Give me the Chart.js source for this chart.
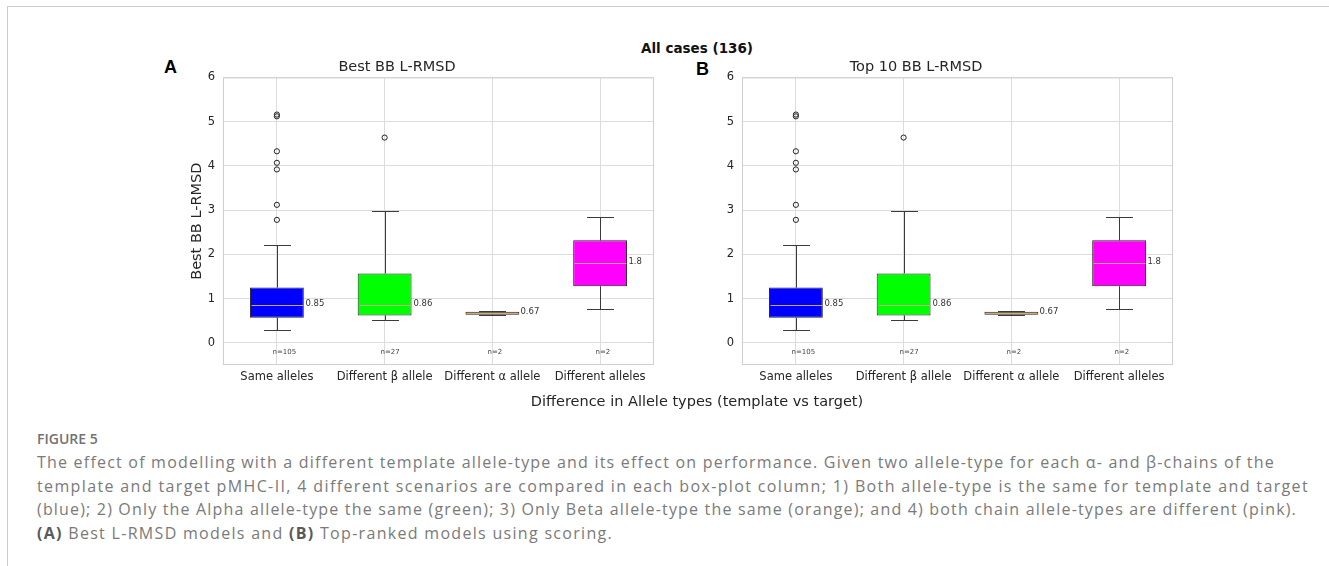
<!DOCTYPE html>
<html>
<head>
<meta charset="utf-8">
<script src="https://cdn.jsdelivr.net/npm/chart.js@4.4.1/dist/chart.umd.min.js"></script>
<style>
  body { margin: 0; background: #fff; width: 1329px; height: 566px; overflow: hidden; position: relative; }
  .frame { position: absolute; left: 7px; top: 6px; right: -5px; bottom: -5px; border-left: 1px solid #cccccc; border-top: 1px solid #cccccc; }
  .panel { position: absolute; top: 55px; width: 530px; height: 345px; }
  .txt { position: absolute; white-space: nowrap; font-family: "DejaVu Sans", sans-serif; color: #262626; }
  .letter { position: absolute; font-family: "Liberation Sans", Arial, sans-serif; font-weight: bold; font-size: 18px; color: #000; }
  .caption { position: absolute; left: 37px; font-family: "Open Sans", Lato, sans-serif; font-size: 16px; line-height: 20px; color: #7a7a7a; white-space: nowrap; }
  .caption b { color: #595959; }
</style>
</head>
<body>
<div class="frame"></div>
<div class="txt" style="left:597px;width:200px;text-align:center;top:40px;font-size:13.5px;font-weight:bold;color:#111;">All cases (136)</div>
<div class="letter" style="left:164px;top:57px;">A</div>
<div class="letter" style="left:696px;top:59px;">B</div>
<div class="panel" style="left:140px;"><canvas id="chartA" width="530" height="345"></canvas></div>
<div class="panel" style="left:659px;"><canvas id="chartB" width="530" height="345"></canvas></div>
<div class="txt" style="left:397px;width:600px;text-align:center;top:393px;font-size:14.5px;">Difference in Allele types (template vs target)</div>
<div class="caption" style="top:429px;font-size:14px;font-weight:600;color:#727272;">FIGURE 5</div>
<div class="caption capline" style="top:452px;">The effect of modelling with a different template allele-type and its effect on performance. Given two allele-type for each α- and β-chains of the</div>
<div class="caption capline" style="top:476px;">template and target pMHC-II, 4 different scenarios are compared in each box-plot column; 1) Both allele-type is the same for template and target</div>
<div class="caption capline" style="top:499px;">(blue); 2) Only the Alpha allele-type the same (green); 3) Only Beta allele-type the same (orange); and 4) both chain allele-types are different (pink).</div>
<div class="caption capline" style="top:523px;"><b>(A)</b> Best L-RMSD models and <b>(B)</b> Top-ranked models using scoring.</div>
<script>
const categories = ['Same alleles', 'Different β allele', 'Different α allele', 'Different alleles'];
const boxColors = ['#0000ff', '#00ff00', '#d9a21c', '#ff00ff'];
// box stats (both panels show the same values)
const q1 = [0.57, 0.62, 0.635, 1.28];
const q3 = [1.25, 1.57, 0.705, 2.32];
const medians = [0.85, 0.86, 0.67, 1.8];
const whiskerLow = [0.28, 0.52, 0.62, 0.76];
const whiskerHigh = [2.22, 2.99, 0.72, 2.85];
const counts = [105, 27, 2, 2];
const sameOutliers = [2.78, 3.12, 3.92, 4.07, 4.33, 5.12, 5.16];
const betaOutliers = [4.64];
const yTicks = [0, 1, 2, 3, 4, 5, 6];

const chartFont = '"DejaVu Sans", sans-serif';

const boxExtras = {
    id: 'boxExtras',
    beforeDatasetsDraw(chart) {
        const a = chart.chartArea;
        const ctx = chart.ctx;
        ctx.save();
        ctx.strokeStyle = '#cfcfcf';
        ctx.lineWidth = 1;
        ctx.strokeRect(a.left + 0.5, a.top + 0.5, a.right - a.left - 1, a.bottom - a.top - 1);
        ctx.restore();
    },
    afterDatasetsDraw(chart) {
        const ctx = chart.ctx;
        const x = chart.scales.x;
        const y = chart.scales.y;
        const bars = chart.getDatasetMeta(0).data;
        ctx.save();
        for (let i = 0; i < categories.length; i++) {
            const cx = Math.round(x.getPixelForValue(i)) + 0.5;
            const half = bars[i].width / 2;
            const cap = half / 2;
            const lowY = Math.round(y.getPixelForValue(whiskerLow[i])) + 0.5;
            const highY = Math.round(y.getPixelForValue(whiskerHigh[i])) + 0.5;
            // whiskers
            ctx.strokeStyle = '#3a3a3a';
            ctx.lineWidth = 1;
            ctx.beginPath();
            if (whiskerLow[i] < q1[i]) {
                ctx.moveTo(cx, y.getPixelForValue(q1[i]));
                ctx.lineTo(cx, lowY);
            }
            if (whiskerHigh[i] > q3[i]) {
                ctx.moveTo(cx, y.getPixelForValue(q3[i]));
                ctx.lineTo(cx, highY);
            }
            ctx.moveTo(cx - cap, lowY);
            ctx.lineTo(cx + cap, lowY);
            ctx.moveTo(cx - cap, highY);
            ctx.lineTo(cx + cap, highY);
            ctx.stroke();
            // median
            const my = y.getPixelForValue(medians[i]);
            ctx.strokeStyle = '#c8a88a';
            ctx.beginPath();
            ctx.moveTo(cx - half + 1, Math.round(my) + 0.5);
            ctx.lineTo(cx + half - 1, Math.round(my) + 0.5);
            ctx.stroke();
            ctx.fillStyle = '#333';
            ctx.font = '8.5px ' + chartFont;
            ctx.textAlign = 'left';
            ctx.textBaseline = 'middle';
            ctx.fillText(String(medians[i]), cx + half + 1, my - 1);
            // sample size
            ctx.font = '7px ' + chartFont;
            ctx.fillStyle = '#444';
            ctx.fillText('n=' + counts[i], cx - 5, y.getPixelForValue(-0.2));
        }
        ctx.restore();
    }
};

function makeConfig(title, yTitle) {
    return {
        type: 'bar',
        data: {
            labels: categories,
            datasets: [
                {
                    data: categories.map((c, i) => [q1[i], q3[i]]),
                    backgroundColor: boxColors,
                    borderColor: '#222',
                    borderWidth: 1,
                    borderSkipped: false,
                    barPercentage: 0.5,
                    categoryPercentage: 1
                },
                {
                    type: 'line',
                    showLine: false,
                    data: sameOutliers.map(v => ({ x: categories[0], y: v }))
                        .concat(betaOutliers.map(v => ({ x: categories[1], y: v }))),
                    pointRadius: 2.6,
                    pointBorderWidth: 1,
                    pointBorderColor: '#222',
                    pointBackgroundColor: 'rgba(255,255,255,0)'
                }
            ]
        },
        options: {
            responsive: false,
            animation: false,
            layout: { padding: { left: 0, right: 16, top: 0, bottom: 0 } },
            plugins: {
                legend: { display: false },
                tooltip: { enabled: false },
                title: {
                    display: true,
                    text: title,
                    color: '#262626',
                    font: { family: chartFont, size: 14.5, weight: 'normal' },
                    padding: { top: 4, bottom: 1 }
                }
            },
            scales: {
                x: {
                    grid: { color: '#dcdcdc', offset: false, drawTicks: false },
                    border: { display: false },
                    ticks: { color: '#262626', font: { family: chartFont, size: 11.5 }, padding: 5, maxRotation: 0, autoSkip: false },
                    afterFit: s => { s.height = 35; }
                },
                y: {
                    min: -0.5,
                    max: 6,
                    grid: { color: '#dcdcdc', drawTicks: false },
                    border: { display: false },
                    ticks: { color: '#262626', font: { family: chartFont, size: 11.5 }, padding: 8 },
                    afterBuildTicks: s => { s.ticks = yTicks.map(v => ({ value: v })); },
                    title: {
                        display: yTitle !== '',
                        text: yTitle,
                        color: '#262626',
                        font: { family: chartFont, size: 14.5 },
                        padding: { top: 49, bottom: 0 }
                    },
                    afterFit: s => { s.width = 83; }
                }
            }
        },
        plugins: [boxExtras]
    };
}

var chartA = new Chart(document.getElementById('chartA'), makeConfig('Best BB L-RMSD', 'Best BB L-RMSD'));
var chartB = new Chart(document.getElementById('chartB'), makeConfig('Top 10 BB L-RMSD', ''));

// stretch caption lines to the widths seen in the figure
const captionEnds = [1275, 1309, 1297, 613];
function fitCaption() {
    document.querySelectorAll('.capline').forEach((el, i) => {
        el.style.letterSpacing = '0px';
        const w = el.getBoundingClientRect().width;
        const n = el.textContent.length;
        el.style.letterSpacing = ((captionEnds[i] - 37 - w) / n) + 'px';
    });
}
fitCaption();
document.fonts.ready.then(fitCaption);
</script>
</body>
</html>
